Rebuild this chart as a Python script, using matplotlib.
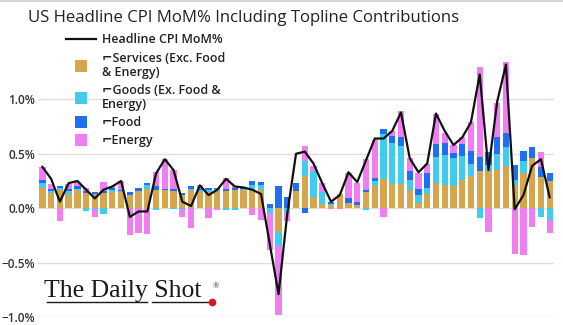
import numpy as np
import matplotlib.pyplot as plt
from matplotlib.lines import Line2D

# Contributions to headline CPI MoM (%), 59 months
services = [0.19, 0.14, 0.17, 0.13, 0.17, 0.14, 0.13, 0.14, 0.15, 0.15,
            0.12, 0.16, 0.18, 0.17, 0.17, 0.16, 0.12, 0.17, 0.15, 0.15,
            0.16, 0.16, 0.17, 0.17, 0.18, 0.17, 0.00, -0.22, 0.00, 0.16,
            0.30, 0.10, 0.04, 0.03, 0.13, 0.05, 0.03, 0.15, 0.20, 0.27,
            0.22, 0.22, 0.17, 0.05, 0.13, 0.23, 0.21, 0.20, 0.26, 0.30,
            0.34, 0.34, 0.35, 0.39, 0.21, 0.32, 0.46, 0.29, 0.25]
goods = [0.04, 0.02, 0.02, 0.03, 0.01, -0.03, -0.01, -0.05, 0.02, 0.01,
         0.00, 0.00, 0.03, -0.02, 0.00, -0.01, -0.01, 0.01, 0.02, 0.02,
         0.02, -0.02, -0.02, 0.01, 0.03, 0.04, -0.04, -0.13, -0.04, 0.00,
         0.13, 0.24, 0.11, 0.01, 0.00, 0.00, 0.00, -0.02, 0.05, 0.41,
         0.38, 0.35, 0.09, 0.07, 0.06, 0.24, 0.28, 0.26, 0.22, 0.11,
         -0.09, 0.06, 0.15, 0.17, 0.05, 0.11, 0.00, -0.08, -0.11]
food = [0.03, 0.02, 0.01, 0.02, 0.02, 0.02, 0.02, 0.02, 0.02, 0.01,
        0.03, 0.03, 0.02, 0.03, 0.01, 0.02, 0.02, 0.02, 0.01, 0.02,
        0.01, 0.02, 0.02, 0.01, 0.04, 0.03, 0.04, 0.20, 0.10, 0.07,
        -0.04, 0.00, 0.00, 0.02, 0.00, 0.04, 0.03, 0.02, 0.03, 0.05,
        0.06, 0.08, 0.08, 0.06, 0.13, 0.12, 0.11, 0.05, 0.11, 0.12,
        0.13, 0.12, 0.15, 0.13, 0.14, 0.10, 0.10, 0.09, 0.07]
energy = [0.12, 0.04, -0.12, 0.04, 0.04, 0.03, -0.07, 0.08, 0.01, 0.08,
          -0.25, -0.23, -0.24, 0.13, 0.27, 0.17, -0.07, -0.18, 0.03, -0.09,
          -0.02, 0.10, 0.01, 0.00, -0.06, -0.11, -0.34, -0.63, -0.08, 0.00,
          0.14, 0.05, 0.08, -0.01, -0.01, 0.23, 0.17, 0.28, 0.35, -0.08,
          0.05, 0.24, 0.12, 0.14, 0.09, 0.28, 0.09, 0.07, 0.06, 0.26,
          0.83, -0.22, 0.32, 0.65, -0.42, -0.43, -0.17, 0.14, -0.12]
headline = [0.38, 0.27, 0.06, 0.23, 0.25, 0.17, 0.09, 0.17, 0.20, 0.25,
            -0.08, -0.03, -0.03, 0.32, 0.45, 0.35, 0.06, 0.02, 0.21, 0.12,
            0.17, 0.27, 0.20, 0.19, 0.17, 0.13, -0.33, -0.79, -0.05, 0.50,
            0.52, 0.41, 0.23, 0.06, 0.12, 0.33, 0.24, 0.44, 0.64, 0.64,
            0.71, 0.88, 0.46, 0.33, 0.41, 0.87, 0.71, 0.58, 0.65, 0.79,
            1.23, 0.35, 0.98, 1.32, -0.01, 0.12, 0.39, 0.45, 0.10]

y_ticks = [-1.0, -0.5, 0.0, 0.5, 1.0]
y_tick_labels = ["\u22121.0%", "\u22120.5%", "0.0%", "0.5%", "1.0%"]

hook = "\u2310"
series = [
    (services, "#d6a64f", hook + "Services (Exc. Food\n& Energy)"),
    (goods, "#41cbef", hook + "Goods (Ex. Food &\nEnergy)"),
    (food, "#1f6ff2", hook + "Food"),
    (energy, "#f07ef0", hook + "Energy"),
]

plt.rcParams['font.family'] = ['Open Sans', 'DejaVu Sans']

fig = plt.figure(figsize=(5.63, 3.25), dpi=100)
ax = fig.add_axes([0.0675, 0.0246, 0.9166, 0.837])

x = np.arange(len(headline))
pos_base = np.zeros(len(x))
neg_base = np.zeros(len(x))
for vals, col, lab in series:
    v = np.array(vals)
    pos = np.where(v > 0, v, 0)
    neg = np.where(v < 0, v, 0)
    ax.bar(x, pos, bottom=pos_base, width=0.72, color=col, linewidth=0, zorder=2)
    ax.bar(x, neg, bottom=neg_base, width=0.72, color=col, linewidth=0, zorder=2)
    pos_base += pos
    neg_base += neg

ax.plot(x, headline, color="#111111", lw=1.6, zorder=3)

ax.set_xlim(-0.5, len(x) - 0.5)
ax.set_ylim(-1.0, 1.5)
ax.set_yticks(y_ticks)
ax.set_yticklabels(y_tick_labels)
ax.set_xticks([])
ax.grid(axis="y", color="#e4ded6", lw=1, zorder=0)
ax.tick_params(axis="y", length=0, pad=2, labelsize=8.5, labelcolor="#333333")
for lbl in ax.get_yticklabels():
    lbl.set_fontweight("semibold")
for s in ax.spines.values():
    s.set_visible(False)

# legend
handles = [Line2D([0], [0], color="#111111", lw=1.6)]
labels = ["Headline CPI MoM%"]
for vals, col, lab in series:
    handles.append(Line2D([0], [0], marker="s", linestyle="none",
                          markersize=8.5, markerfacecolor=col, markeredgewidth=0))
    labels.append(lab)
leg = ax.legend(handles, labels, loc="upper left",
                bbox_to_anchor=(0.118, 0.897), bbox_transform=fig.transFigure,
                frameon=False, handlelength=2.4, handletextpad=0.45,
                labelspacing=0.42, borderpad=0, borderaxespad=0,
                prop={"size": 9, "weight": "semibold"})
for t in leg.get_texts():
    t.set_color("#222222")
    t.set_linespacing(1.1)

# title and top rule
fig.text(0.05, 0.932, "US Headline CPI MoM% Including Topline Contributions",
         fontsize=12.1, color="#222222", va="baseline", ha="left")
fig.add_artist(Line2D([0, 1], [0.996, 0.996], color="#cccccc", lw=1.2))

# logo
fig.text(0.079, 0.085, "The Daily Shot", family="Liberation Serif",
         fontsize=18.5, color="#1a1a1a", va="baseline", ha="left")
fig.text(0.378, 0.113, "\u00ae", family="Liberation Serif", fontsize=6,
         color="#1a1a1a", va="baseline", ha="left")
fig.add_artist(Line2D([46.7 / 563, 146.7 / 563], [0.071, 0.071], color="#1a1a1a", lw=1))
fig.add_artist(Line2D([151.7 / 563, 211.7 / 563], [0.071, 0.071], color="#1a1a1a", lw=1))
fig.add_artist(Line2D([212.3 / 563], [0.072], marker="o", markersize=4.5,
                      color="#e0141e", linestyle="none"))

fig.savefig("out.png", dpi=100)
